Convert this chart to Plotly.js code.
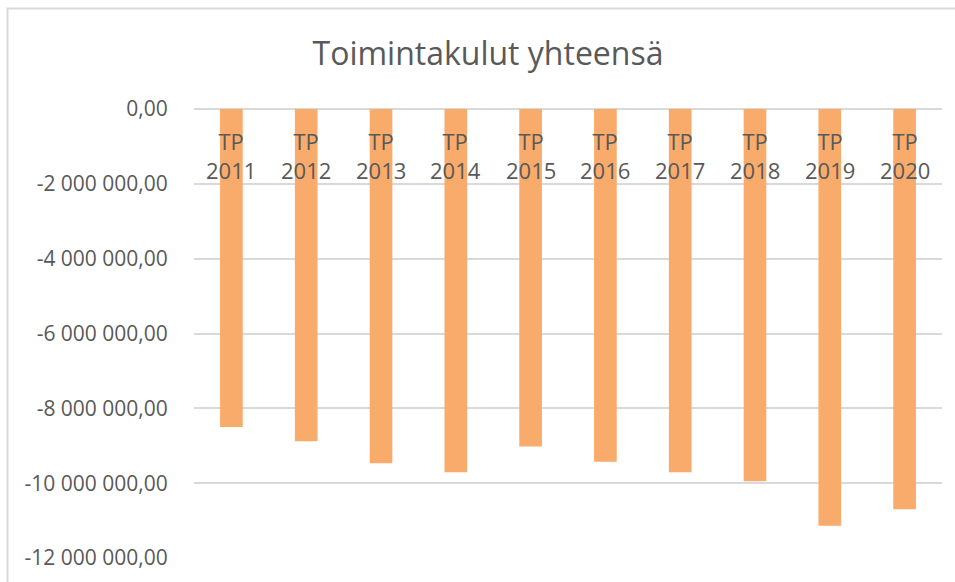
<!DOCTYPE html>
<html>
<head>
<meta charset="utf-8">
<script src="https://cdn.plot.ly/plotly-3.0.1.min.js"></script>
<style>
  html, body { margin: 0; padding: 0; background: #ffffff; }
  #chart { width: 955px; height: 582px; }
</style>
</head>
<body>
<div id="chart"></div>
<script>
const categories = ["TP 2011", "TP 2012", "TP 2013", "TP 2014", "TP 2015", "TP 2016", "TP 2017", "TP 2018", "TP 2019", "TP 2020"];
const values = [-8500000, -8880000, -9470000, -9710000, -9020000, -9430000, -9710000, -9950000, -11140000, -10700000];
const tickValues = [0, -2000000, -4000000, -6000000, -8000000, -10000000, -12000000];
const tickLabels = ["0,00", "-2 000 000,00", "-4 000 000,00", "-6 000 000,00", "-8 000 000,00", "-10 000 000,00", "-12 000 000,00"];
const chartTitle = "Toimintakulut yhteensä";

const FONT = "Open Sans, Noto Sans, DejaVu Sans, sans-serif";
const GREY = "#595959";

const trace = {
  type: "bar",
  x: categories,
  y: values,
  marker: { color: "#F9AB6B", line: { width: 0 } },
  hoverinfo: "x+y"
};

const annotations = categories.map(c => ({
  x: c, xref: "x",
  y: 1, yref: "paper",
  yanchor: "middle", xanchor: "center",
  yshift: -46,
  text: c.replace(" ", "<br>"),
  showarrow: false,
  font: { family: FONT, size: 22, color: GREY }
}));

const L = 194, R = 13, T = 109, B = 24;
const W = 955, H = 582;
const pw = W - L - R, ph = H - T - B;
const px = v => (v - L) / pw;
const py = v => (H - B - v) / ph;

const layout = {
  width: W, height: H,
  margin: { l: L, r: R, t: T, b: B, pad: 0 },
  paper_bgcolor: "#ffffff",
  plot_bgcolor: "#ffffff",
  font: { family: FONT, color: GREY },
  title: {
    text: chartTitle,
    font: { family: FONT, size: 32, color: GREY },
    x: 488 / W, xref: "container", xanchor: "center",
    y: 1 - 54 / H, yref: "container", yanchor: "middle"
  },
  showlegend: false,
  bargap: 0.697,
  xaxis: {
    type: "category",
    showticklabels: false,
    showgrid: false,
    zeroline: false,
    showline: false,
    ticks: ""
  },
  yaxis: {
    range: [-12000000, 0],
    tickvals: tickValues,
    ticktext: tickLabels,
    tickfont: { family: FONT, size: 21, color: GREY },
    showgrid: true,
    gridcolor: "#d9d9d9",
    gridwidth: 2,
    zeroline: true,
    zerolinecolor: "#d9d9d9",
    zerolinewidth: 2,
    showline: false,
    ticks: "outside",
    ticklen: 21,
    tickcolor: "rgba(0,0,0,0)",
    fixedrange: true
  },
  annotations: annotations,
  shapes: [{
    type: "rect", xref: "paper", yref: "paper",
    x0: px(7.5), x1: px(975), y0: py(600), y1: py(8.5),
    line: { color: "#d9d9d9", width: 2 },
    fillcolor: "rgba(0,0,0,0)",
    layer: "below"
  }]
};

Plotly.newPlot("chart", [trace], layout, { displayModeBar: false, staticPlot: false });
</script>
</body>
</html>
